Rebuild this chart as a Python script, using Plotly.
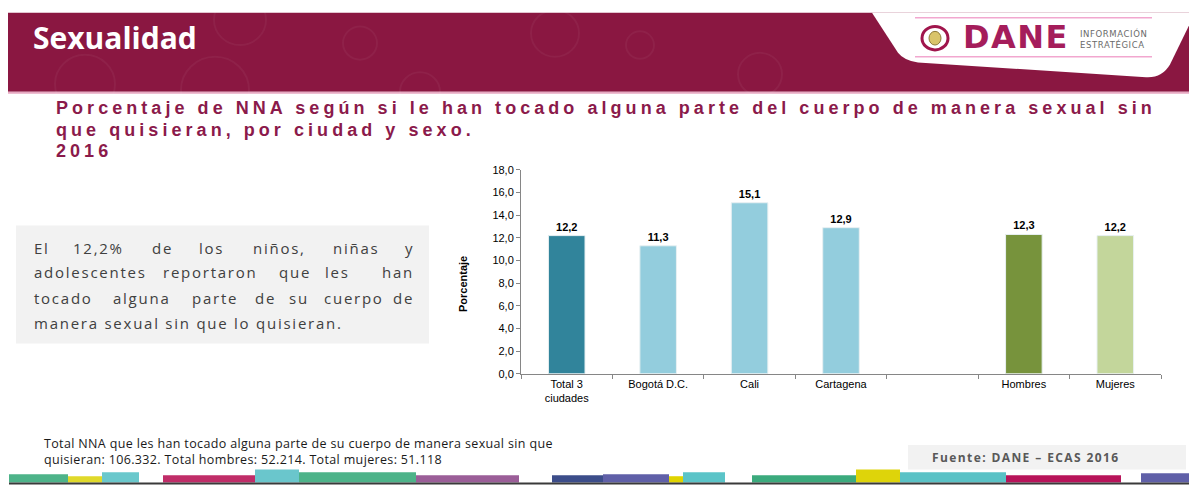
import plotly.graph_objects as go

# data
categories = ["Total 3<br>ciudades", "Bogotá D.C.", "Cali", "Cartagena", " ", "Hombres", "Mujeres"]
values = [12.2, 11.3, 15.1, 12.9, None, 12.3, 12.2]
bar_colors = ["#31849B", "#93CDDD", "#93CDDD", "#93CDDD", "#93CDDD", "#77933C", "#C3D69B"]
y_ticks = [0, 2, 4, 6, 8, 10, 12, 14, 16, 18]

W, H = 1189, 491


def px(x):
    return x / W


def py(y):
    return 1 - y / H


fig = go.Figure()

fig.add_trace(go.Bar(
    x=categories,
    y=values,
    marker=dict(color=bar_colors, line=dict(color="#E8F0F2", width=1)),
    texttemplate="%{y:.1f}",
    textposition="outside",
    textfont=dict(family="Liberation Sans, Arial", size=11, color="#000000", weight="bold"),
    cliponaxis=False,
    hoverinfo="skip",
))

shapes = []
annotations = []

# header band
shapes.append(dict(type="rect", xref="paper", yref="paper",
                   x0=px(8), x1=px(W), y0=py(88), y1=py(7),
                   fillcolor="#8A1741", line=dict(width=0), layer="below"))
shapes.append(dict(type="rect", xref="paper", yref="paper",
                   x0=px(8), x1=px(W), y0=py(90), y1=py(88),
                   fillcolor="#E7A9C2", line=dict(width=0), layer="below"))
# faint decorative rings on the header
for cx, cy, r in [(240, 14, 26), (360, 38, 17), (555, 28, 24), (85, 80, 30),
                  (215, 86, 34), (420, 88, 20), (640, 40, 14), (760, 70, 22)]:
    shapes.append(dict(type="circle", xref="paper", yref="paper",
                       x0=px(cx - r), x1=px(cx + r), y0=py(cy + r), y1=py(cy - r),
                       line=dict(color="rgba(255,255,255,0.045)", width=2), layer="below"))
# white logo panel
p = lambda x, y: f"{px(x):.5f},{py(y):.5f}"
panel = (f"M {p(872,7)} L {p(1189,7)} L {p(1189,20)} L {p(1170,60)} "
         f"Q {p(1162,74)} {p(1146,73)} L {p(918,58)} Q {p(904,56)} {p(898,48)} Z")
shapes.append(dict(type="path", xref="paper", yref="paper", path=panel,
                   fillcolor="#FFFFFF", line=dict(width=0), layer="below"))
for yy in (12, 52):
    shapes.append(dict(type="line", xref="paper", yref="paper",
                       x0=px(915), x1=px(1152), y0=py(yy), y1=py(yy),
                       line=dict(color="#F2A7CF", width=1.5), layer="below"))
# emblem
shapes.append(dict(type="circle", xref="paper", yref="paper",
                   x0=px(922), x1=px(948), y0=py(45), y1=py(21),
                   fillcolor="#FFFFFF", line=dict(color="#A0154C", width=3)))
shapes.append(dict(type="circle", xref="paper", yref="paper",
                   x0=px(929), x1=px(941), y0=py(40), y1=py(26),
                   fillcolor="#D9C46A", line=dict(color="#8E7A3A", width=1)))

# left text box and source box
shapes.append(dict(type="rect", xref="paper", yref="paper",
                   x0=px(16), x1=px(429), y0=py(346), y1=py(225),
                   fillcolor="#F2F2F2", line=dict(width=0), layer="below"))
shapes.append(dict(type="rect", xref="paper", yref="paper",
                   x0=px(908), x1=px(1186), y0=py(475), y1=py(450),
                   fillcolor="#F2F2F2", line=dict(width=0), layer="below"))

# bottom colour strip
strip = [(9, 68, 480, "#4DB389"), (68, 102, 482, "#E0D92A"), (102, 139, 478, "#6AC8CC"),
         (163, 255, 481, "#C02D68"), (255, 299, 475, "#6AC6CC"), (299, 416, 478, "#4DB389"),
         (416, 519, 481, "#9B5E98"), (552, 603, 481, "#3C4D8A"), (603, 669, 480, "#6060A8"),
         (669, 683, 482, "#E0D400"), (683, 725, 478, "#5BC4C8"), (752, 856, 481, "#3BAA7D"),
         (856, 900, 475, "#DED40A"), (900, 1006, 478, "#5AC2C6"), (1006, 1121, 481, "#B8145A"),
         (1141, 1189, 479, "#6060A8")]
for x0, x1, top, col in strip:
    shapes.append(dict(type="rect", xref="paper", yref="paper",
                       x0=px(x0), x1=px(x1), y0=py(488.5), y1=py(top),
                       fillcolor=col, line=dict(width=0), layer="below"))
shapes.append(dict(type="rect", xref="paper", yref="paper",
                   x0=px(9), x1=px(W), y0=py(490.5), y1=py(488.5),
                   fillcolor="#3A3A3A", line=dict(width=0), layer="below"))


def note(x, y, text, size, color, family, xanchor="left", bold=False, angle=0):
    annotations.append(dict(x=px(x), y=py(y), xref="paper", yref="paper",
                            text=text, showarrow=False, xanchor=xanchor, yanchor="middle",
                            align="left", textangle=angle,
                            font=dict(size=size, color=color, family=family,
                                      weight="bold" if bold else "normal")))


def spaced(text, ls):
    return f'<span style="letter-spacing:{ls}px">{text}</span>'


note(31, 32, "Sexualidad", 30, "#FFFFFF", "Open Sans", bold=True)
note(961, 32, spaced("DANE", 1.5), 32, "#A51D5B", "DejaVu Sans", bold=True)
note(1078, 34, spaced("INFORMACIÓN<br>ESTRATÉGICA", 0.6), 8.5, "#6A6A6A", "DejaVu Sans")

title_lines = ["Porcentaje de NNA según si le han tocado alguna parte del cuerpo de manera sexual sin",
               "que quisieran, por ciudad y sexo.",
               "2016"]
for i, line in enumerate(title_lines):
    note(54, 105 + i * 22, spaced(line, 4.05), 18, "#8B1A4B", "Liberation Sans, Arial", bold=True)

# justified paragraph: first word at left edge, last word at right edge,
# inner words centred where they sit in the reference
body_font = "Open Sans"
LS = 1.75
para = [
    (248, ["El", "12,2%", "de", "los", "niños,", "niñas", "y"], [98, 162, 211, 279, 356]),
    (273, ["adolescentes", "reportaron", "que", "les", "han"], [210, 295, 337]),
    (299, ["tocado", "alguna", "parte", "de", "su", "cuerpo", "de"], [142, 215, 265, 299, 354]),
]
for y, words, centres in para:
    note(32, y, spaced(words[0], LS), 15, "#404040", body_font)
    for w, x in zip(words[1:-1], centres):
        note(x, y, spaced(w, LS), 15, "#404040", body_font, xanchor="center")
    note(416, y, spaced(words[-1], LS), 15, "#404040", body_font, xanchor="right")
note(32, 325, spaced("manera sexual sin que lo quisieran.", LS), 15, "#404040", body_font)

note(42, 457, spaced("Total NNA que les han tocado alguna parte de su cuerpo de manera sexual sin que<br>"
                     "quisieran: 106.332. Total hombres: 52.214. Total mujeres: 51.118", 0.35),
     12.5, "#1A1A1A", "Open Sans")
note(930, 463, spaced("Fuente: DANE – ECAS 2016", 1.4), 12, "#595959", "Open Sans", bold=True)

note(463, 285, "Porcentaje", 11, "#000000", "Liberation Sans Narrow, Arial Narrow, Liberation Sans",
     xanchor="center", bold=True, angle=-90)

fig.update_layout(
    width=W, height=H,
    margin=dict(l=0, r=0, t=0, b=0),
    paper_bgcolor="#FFFFFF", plot_bgcolor="#FFFFFF",
    separators=",.",
    showlegend=False,
    bargap=0.6,
    shapes=shapes,
    annotations=annotations,
    xaxis=dict(domain=[px(521), px(1161)], type="category",
               showline=True, linecolor="#868686", linewidth=1,
               ticks="outside", tickson="boundaries", ticklen=4, tickcolor="#868686",
               tickfont=dict(family="Liberation Sans, Arial", size=11, color="#000000"),
               showgrid=False, fixedrange=True),
    yaxis=dict(domain=[py(377), py(168)], range=[0, 18], tickvals=y_ticks,
               tickformat=".1f", showline=True, linecolor="#868686", linewidth=1,
               ticks="outside", ticklen=4, tickcolor="#868686",
               tickfont=dict(family="Liberation Sans, Arial", size=11, color="#000000"),
               showgrid=False, zeroline=False, fixedrange=True),
)

pin_page = ("document.documentElement.style.margin='0';"
            "document.body.style.margin='0';document.body.style.padding='0';"
            "var d=document.getElementById('{plot_id}');"
            "d.style.position='absolute';d.style.top='0';d.style.left='0';")
fig.write_html("out.html", config={"displayModeBar": False}, post_script=pin_page)
